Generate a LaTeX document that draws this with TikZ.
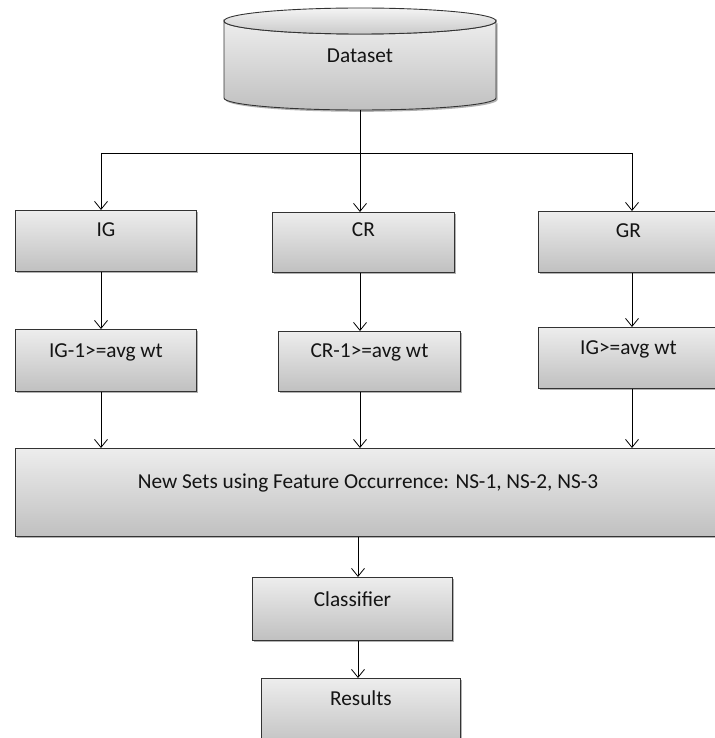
\documentclass[tikz,border=0pt]{standalone}
\usepackage{fontspec}
\setmainfont{Carlito}
\usetikzlibrary{arrows.meta,shadows}
\definecolor{boxtop}{HTML}{EDEDED}
\definecolor{boxbot}{HTML}{C0C0C0}
\definecolor{edge}{HTML}{333333}
\definecolor{txt}{HTML}{141414}
\begin{document}
\begin{tikzpicture}[x=1pt,y=-1pt,
  box/.style={draw=edge, line width=0.9pt, top color=boxtop, bottom color=boxbot,
    inner sep=0pt, anchor=north west, text=txt, font=\fontsize{21.3}{25}\selectfont,
    drop shadow={shadow xshift=1.5pt, shadow yshift=-1.8pt, opacity=0.3, fill=black}},
  arr/.style={-{Straight Barb[length=8pt,width=13pt]}, line width=0.8pt, draw=black},
  conn/.style={line width=0.8pt, draw=black}]
\useasboundingbox (0,0) rectangle (714,738);
% cylinder
\path[draw=edge, line width=0.9pt, top color=boxtop, bottom color=boxbot,
  drop shadow={shadow xshift=1.5pt, shadow yshift=-1.8pt, opacity=0.3, fill=black}]
  (224,21) -- (224,98) arc[start angle=180, end angle=0, x radius=136, y radius=12]
  -- (496,21) arc[start angle=0, end angle=180, x radius=136, y radius=13] -- cycle;
\path[draw=edge, line width=0.9pt, top color=boxtop!60!white, bottom color=boxtop!85!black]
  (360,21) ellipse[x radius=136, y radius=13];
\node[text=txt, font=\fontsize{21.3}{25}\selectfont, anchor=base] (ds) at (360,63) {Dataset};
\coordinate (dsb) at (360,110);
\coordinate (j) at (360,153);
\coordinate (jl) at (101,153);
\coordinate (jr) at (632,153);
% first row
\node[box, minimum width=181pt, text height=26pt, text depth=35pt] (ig) at (15,210) {IG};
\node[box, minimum width=182pt, text height=24pt, text depth=36pt] (cr) at (272,212) {CR};
\node[box, minimum width=180pt, text height=26pt, text depth=35pt] (gr) at (538,211) {GR};
% second row
\node[box, minimum width=181pt, text height=28pt, text depth=34pt] (igw) at (15,329) {IG-1>=avg wt};
\node[box, minimum width=182pt, text height=26pt, text depth=34pt] (crw) at (278,331) {CR-1>=avg wt};
\node[box, minimum width=180pt, text height=27pt, text depth=34pt] (grw) at (538,327) {IG>=avg wt};
% big box
\node[box, minimum width=705pt, text height=40pt, text depth=48pt] (ns) at (15,448) {New Sets using Feature Occurrence: NS-1, NS-2, NS-3};
\node[box, minimum width=200pt, text height=29pt, text depth=34pt] (cl) at (252,577) {Classifier};
\node[box, minimum width=199pt, text height=27pt, text depth=43pt] (res) at (261,678) {Results};
% connectors
\draw[conn] (dsb) -- (j);
\draw[conn] (jl) -- (jr);
\draw[arr] (jl) -- (jl |- ig.north);
\draw[arr] (j) -- (j |- cr.north);
\draw[arr] (jr) -- (jr |- gr.north);
\draw[arr] (jl |- ig.south) -- (jl |- igw.north);
\draw[arr] (j |- cr.south) -- (j |- crw.north);
\draw[arr] (jr |- gr.south) -- (jr |- grw.north);
\draw[arr] (jl |- igw.south) -- (jl |- ns.north);
\draw[arr] (j |- crw.south) -- (j |- ns.north);
\draw[arr] (jr |- grw.south) -- (jr |- ns.north);
\coordinate (mc) at (358,0);
\draw[arr] (mc |- ns.south) -- (mc |- cl.north);
\draw[arr] (mc |- cl.south) -- (mc |- res.north);
\end{tikzpicture}
\end{document}
